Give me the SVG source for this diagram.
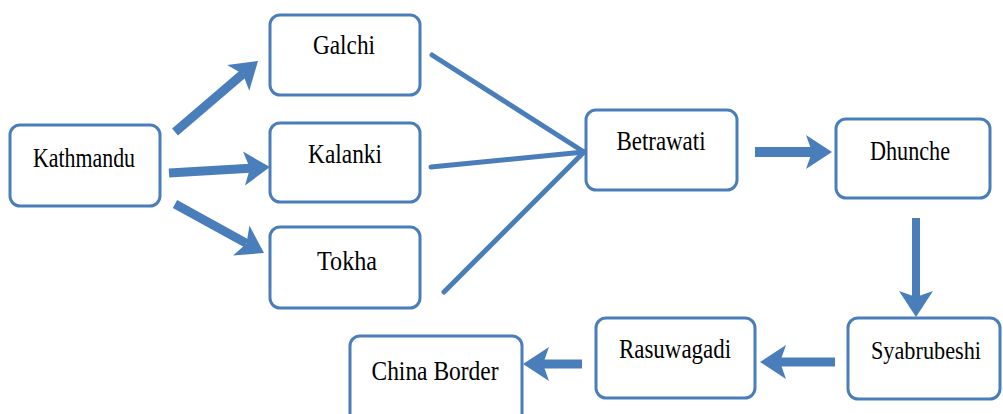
<svg xmlns="http://www.w3.org/2000/svg" width="1003" height="414" viewBox="0 0 1003 414">
<style>
.box{fill:#fff;stroke:#4a7ebb;stroke-width:3}
.lbl{font-family:"Liberation Serif","Times New Roman",serif;font-size:28px;fill:#000;text-anchor:middle}
.arr{stroke:#4a7ebb;fill:none;stroke-width:9;marker-end:url(#ah)}
.ln{stroke:#4a7ebb;fill:none;stroke-width:5;stroke-linecap:round}
</style>
<defs>
<marker id="ah" markerUnits="userSpaceOnUse" orient="auto" overflow="visible" refX="0" refY="0" markerWidth="30" markerHeight="36">
<path d="M-6,-17 L20,0 L-6,17 L0,0 Z" fill="#4a7ebb"/>
</marker>
</defs>
<rect width="1003" height="414" fill="#fff"/>
<g id="connectors">
<line class="arr" x1="175" y1="132" x2="242.8" y2="74"/>
<line class="arr" x1="169" y1="173" x2="250" y2="168.2"/>
<line class="arr" x1="175" y1="204" x2="246.5" y2="243.4"/>
<line class="ln" x1="432" y1="55" x2="584" y2="152"/>
<line class="ln" x1="431" y1="167" x2="584" y2="152"/>
<line class="ln" x1="444" y1="292" x2="584" y2="152"/>
<line class="arr" style="stroke-width:10" x1="755" y1="152" x2="812" y2="152"/>
<line class="arr" style="stroke-width:8" x1="916" y1="218" x2="916" y2="297"/>
<line class="arr" x1="835" y1="362" x2="780" y2="362"/>
<line class="arr" x1="582" y1="364" x2="543" y2="364"/>
</g>
<g id="kathmandu"><rect class="box" x="10" y="125" width="150" height="81" rx="10"/><text class="lbl" x="84" y="167" textLength="102" lengthAdjust="spacingAndGlyphs">Kathmandu</text></g>
<g id="galchi"><rect class="box" x="270" y="15" width="150" height="80" rx="10"/><text class="lbl" x="344" y="54" textLength="62" lengthAdjust="spacingAndGlyphs">Galchi</text></g>
<g id="kalanki"><rect class="box" x="270" y="123" width="150" height="79" rx="10"/><text class="lbl" x="345" y="163" textLength="74" lengthAdjust="spacingAndGlyphs">Kalanki</text></g>
<g id="tokha"><rect class="box" x="270" y="227" width="150" height="81" rx="10"/><text class="lbl" x="347" y="270" textLength="60" lengthAdjust="spacingAndGlyphs">Tokha</text></g>
<g id="betrawati"><rect class="box" x="586" y="110" width="151" height="80" rx="10"/><text class="lbl" x="661" y="150" textLength="89" lengthAdjust="spacingAndGlyphs">Betrawati</text></g>
<g id="dhunche"><rect class="box" x="836" y="119" width="154" height="79" rx="10"/><text class="lbl" x="910" y="160" textLength="80" lengthAdjust="spacingAndGlyphs">Dhunche</text></g>
<g id="syabrubeshi"><rect class="box" x="848" y="318" width="152" height="81" rx="10"/><text class="lbl" style="font-size:25px" x="926" y="359" textLength="110" lengthAdjust="spacingAndGlyphs">Syabrubeshi</text></g>
<g id="rasuwagadi"><rect class="box" x="596" y="318" width="159" height="80" rx="10"/><text class="lbl" x="675" y="358" textLength="112" lengthAdjust="spacingAndGlyphs">Rasuwagadi</text></g>
<g id="china-border"><rect class="box" x="350" y="336" width="172" height="90" rx="10"/><text class="lbl" x="435" y="380" textLength="127" lengthAdjust="spacingAndGlyphs">China Border</text></g>
</svg>
